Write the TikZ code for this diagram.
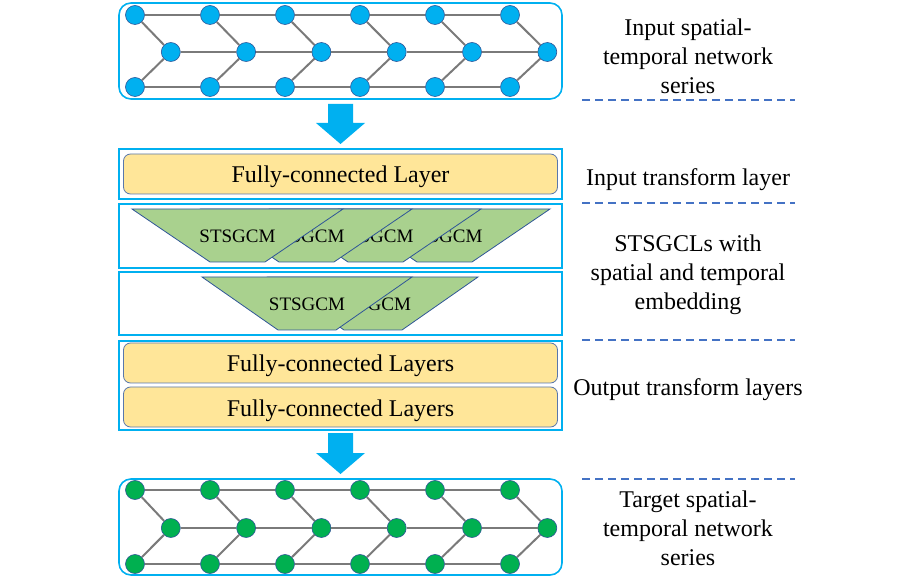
\documentclass[tikz,border=0pt]{standalone}
\usepackage{fontspec}
\setmainfont{Liberation Serif}
\usepackage{tikz}
\usetikzlibrary{arrows,shapes}

\definecolor{cyanline}{HTML}{00B0F0}
\definecolor{darkedge}{HTML}{2F5597}
\definecolor{fcyellow}{HTML}{FFE699}
\definecolor{gcmgreen}{HTML}{A9D18E}
\definecolor{tgtgreen}{HTML}{00B050}
\definecolor{dashblue}{HTML}{4472C4}

\begin{document}
\begin{tikzpicture}[x=1pt,y=-1pt]
            \tikzstyle{vertex}=[circle,draw=darkedge,line width=0.6pt,minimum size=19pt,inner sep=0pt]
            \tikzstyle{link}=[draw=black!52,line width=2pt]
            \tikzstyle{netframe}=[draw=cyanline,line width=1.6pt,rounded corners=12pt]
            \tikzstyle{layerframe}=[draw=cyanline,line width=1.6pt]
            \tikzstyle{fcbox}=[draw=darkedge!80,fill=fcyellow,line width=0.8pt,rounded corners=7pt,minimum width=434pt,minimum height=40pt,text height=22pt,text depth=4pt,font=\fontsize{24}{29}\selectfont]
            \tikzstyle{gcm}=[draw=darkedge,fill=gcmgreen,line width=0.8pt]
            \tikzstyle{gcmtext}=[font=\fontsize{19}{23}\selectfont]
            \tikzstyle{sep}=[draw=dashblue,line width=1.4pt,dash pattern=on 8pt off 5pt]
            \tikzstyle{caption}=[align=center,font=\fontsize{24}{29}\selectfont]

            \useasboundingbox (0,0) rectangle (908,577);

            % input network
            \draw[netframe] (119,3) rectangle (562,99);
            \foreach \i in {1,...,6} {
              \node[vertex,fill=cyanline] (I-t\i) at (60+75*\i, 15) {};
              \node[vertex,fill=cyanline] (I-m\i) at (95.5+75.3*\i, 52) {};
              \node[vertex,fill=cyanline] (I-b\i) at (60+75*\i, 87) {};
              \draw[link] (I-t\i) -- (I-m\i);
              \draw[link] (I-b\i) -- (I-m\i);
            }
            \foreach \i [evaluate=\i as \j using int(\i+1)] in {1,...,5} {
              \draw[link] (I-t\i) -- (I-t\j);
              \draw[link] (I-m\i) -- (I-m\j);
              \draw[link] (I-b\i) -- (I-b\j);
            }

            \fill[cyanline] (328,104) -- (353,104) -- (353,123) -- (365,123) -- (340.5,144) -- (316,123) -- (328,123) -- cycle;

            % input transform layer
            \draw[layerframe] (119,149) rectangle (562,199);
            \node[fcbox] (fc-in) at (340.5,174) {Fully-connected Layer};

            % STSGCLs
            \draw[layerframe] (119,204) rectangle (562,268);
            \foreach \k in {3,2,1,0} {
              \draw[gcm] (132+69*\k,209) -- ++(211,0) -- ++(-78,53) -- ++(-55,0) -- cycle;
              \node[gcmtext] (gcm-a\k) at (237.5+69*\k,236) {STSGCM};
            }
            \draw[layerframe] (119,272) rectangle (562,335);
            \foreach \k in {1,0} {
              \draw[gcm] (202+66*\k,277) -- ++(210,0) -- ++(-76,53) -- ++(-58,0) -- cycle;
              \node[gcmtext] (gcm-b\k) at (307+66*\k,304) {STSGCM};
            }

            % output transform layers
            \draw[layerframe] (119,341) rectangle (562,430);
            \node[fcbox] (fc-out1) at (340.5,363) {Fully-connected Layers};
            \node[fcbox] (fc-out2) at (340.5,407) {Fully-connected Layers};

            \fill[cyanline] (328,433) -- (353,433) -- (353,453) -- (365,453) -- (340.5,474) -- (316,453) -- (328,453) -- cycle;

            % target network
            \draw[netframe] (119,479) rectangle (562,575);
            \foreach \i in {1,...,6} {
              \node[vertex,fill=tgtgreen] (T-t\i) at (60+75*\i, 490) {};
              \node[vertex,fill=tgtgreen] (T-m\i) at (95.5+75.3*\i, 528) {};
              \node[vertex,fill=tgtgreen] (T-b\i) at (60+75*\i, 564) {};
              \draw[link] (T-t\i) -- (T-m\i);
              \draw[link] (T-b\i) -- (T-m\i);
            }
            \foreach \i [evaluate=\i as \j using int(\i+1)] in {1,...,5} {
              \draw[link] (T-t\i) -- (T-t\j);
              \draw[link] (T-m\i) -- (T-m\j);
              \draw[link] (T-b\i) -- (T-b\j);
            }

            % captions
            \node[caption] (cap-in) at (688,56) {Input spatial-\\temporal network\\series};
            \node[caption] (cap-fc) at (688,180) {Input transform layer};
            \node[caption] (cap-gcl) at (688,275) {STSGCLs with\\spatial and temporal\\embedding};
            \node[caption] (cap-out) at (688,390) {Output transform layers};
            \node[caption] (cap-tgt) at (688,528) {Target spatial-\\temporal network\\series};

            \draw[sep] (582,100) -- (795,100);
            \draw[sep] (582,203) -- (795,203);
            \draw[sep] (582,340) -- (795,340);
            \draw[sep] (582,479) -- (795,479);
        \end{tikzpicture}
\end{document}
